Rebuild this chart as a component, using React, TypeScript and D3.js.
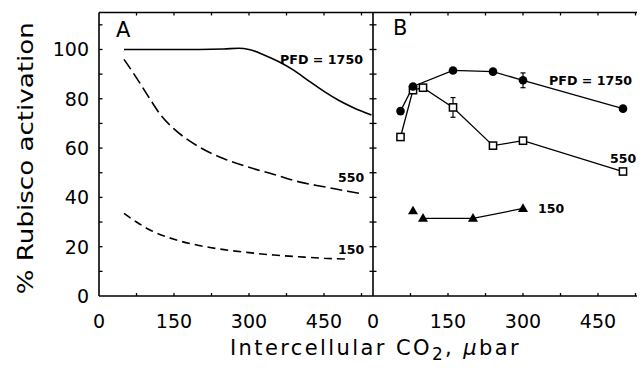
import React from 'react';
import * as d3 from 'd3';

// Panel A: modelled activation curves
const curveAx1750 = [50, 100, 150, 200, 250, 280, 300, 330, 360, 390, 420, 450, 480, 510, 545];
const curveAy1750 = [100, 100, 100, 100, 100.2, 100.5, 100, 97.8, 95, 91.5, 87.2, 83, 79.3, 76.3, 73.4];
const curveAx550 = [50, 75, 100, 125, 150, 200, 250, 300, 350, 400, 450, 500, 525];
const curveAy550 = [96, 88.5, 80.5, 73, 67.8, 60.5, 55.7, 52.2, 49.3, 46.3, 44.3, 42.4, 41.5];
const curveAx150 = [50, 75, 100, 150, 200, 250, 300, 350, 400, 450, 500];
const curveAy150 = [33.5, 30, 27, 23, 20.5, 18.8, 17.6, 16.6, 15.9, 15.3, 15];

// Panel B: measured activation
const ptsBx1750 = [55, 80, 160, 240, 300, 500];
const ptsBy1750 = [75, 85, 91.5, 91, 87.5, 76];
const errB1750 = [0, 0, 0, 0, 3, 0];
const ptsBx550 = [55, 80, 100, 160, 240, 300, 500];
const ptsBy550 = [64.5, 83.5, 84.5, 76.5, 61, 63, 50.5];
const errB550 = [0, 0, 0, 4, 0, 0, 0];
const ptsBx150 = [80, 100, 200, 300];
const ptsBy150 = [34.5, 31.5, 31.5, 35.5];

const xTickLabels = [0, 150, 300, 450];
const yTickLabels = [0, 20, 40, 60, 80, 100];

const W = 642;
const H = 368;
const top = 12.5;
const bottom = 296;
const left = 99;
const mid = 373;
const right = 637;

const xA = d3.scaleLinear().domain([0, 548]).range([left, mid]);
const xB = d3.scaleLinear().domain([0, 528]).range([mid, right]);
const y = d3.scaleLinear().domain([0, 115]).range([bottom, top]);

const font = 'DejaVu Sans, sans-serif';

const App: React.FC = () => {
    const curve = (xs: number[], ys: number[]) =>
        d3.line<number>()
            .x(d => xA(d))
            .y((d, i) => y(ys[i]))
            .curve(d3.curveMonotoneX)(xs) || '';

    const straight = (xs: number[], ys: number[]) =>
        d3.line<number>()
            .x(d => xB(d))
            .y((d, i) => y(ys[i]))(xs) || '';

    const minorY = d3.range(10, 115, 10);
    const minorX = d3.range(75, 548, 75);
    const minorXB = d3.range(75, 528, 75);

    const tri = d3.symbol().type(d3.symbolTriangle).size(44)() || '';

    const errBars = (xs: number[], ys: number[], es: number[], k: string) =>
        xs.map((v, i) => es[i] > 0 && (
            <g key={k + i}>
                <line x1={xB(v)} x2={xB(v)} y1={y(ys[i] - es[i])} y2={y(ys[i] + es[i])} />
                <line x1={xB(v) - 2.5} x2={xB(v) + 2.5} y1={y(ys[i] + es[i])} y2={y(ys[i] + es[i])} />
                <line x1={xB(v) - 2.5} x2={xB(v) + 2.5} y1={y(ys[i] - es[i])} y2={y(ys[i] - es[i])} />
            </g>
        ));

    return (
        <svg width={W} height={H} style={{ position: 'absolute', left: 0, top: 0, background: '#fff' }}>
            {/* frame */}
            <g stroke="#000" strokeWidth={1.6} fill="none">
                <line x1={left} y1={top} x2={right} y2={top} />
                <line x1={left} y1={bottom} x2={right} y2={bottom} />
                <line x1={left} y1={top} x2={left} y2={bottom} />
                <line x1={mid} y1={top} x2={mid} y2={bottom} />
            </g>
            {/* ticks */}
            <g stroke="#000" strokeWidth={1.3}>
                {minorY.map(v => (
                    <g key={'y' + v}>
                        <line x1={left} x2={left + 3.5} y1={y(v)} y2={y(v)} />
                        <line x1={mid - 3.5} x2={mid + 3.5} y1={y(v)} y2={y(v)} />
                    </g>
                ))}
                {minorX.map(v => (
                    <g key={'xa' + v}>
                        <line x1={xA(v)} x2={xA(v)} y1={top} y2={top + 3} />
                        <line x1={xA(v)} x2={xA(v)} y1={bottom} y2={bottom - 3} />
                    </g>
                ))}
                {minorXB.map(v => (
                    <g key={'xb' + v}>
                        <line x1={xB(v)} x2={xB(v)} y1={top} y2={top + 3} />
                        <line x1={xB(v)} x2={xB(v)} y1={bottom} y2={bottom - 3} />
                    </g>
                ))}
            </g>
            {/* tick labels */}
            <g fontFamily={font} fontSize={19} fill="#000">
                {yTickLabels.map(v => (
                    <text key={'yl' + v} x={89} y={y(v)} dy="0.36em" textAnchor="end">{v}</text>
                ))}
                {xTickLabels.map(v => (
                    <text key={'xla' + v} x={xA(v)} y={328} textAnchor="middle">{v}</text>
                ))}
                {xTickLabels.map(v => (
                    <text key={'xlb' + v} x={xB(v)} y={328} textAnchor="middle">{v}</text>
                ))}
            </g>
            {/* axis titles */}
            <text transform={`translate(33,${(top + bottom) / 2 + 4}) rotate(-90)`} textAnchor="middle"
                fontFamily={font} fontSize={22} textLength={272} lengthAdjust="spacingAndGlyphs">% Rubisco activation</text>
            <text x={230} y={355} fontFamily={font} fontSize={21} letterSpacing={2.4}>
                <tspan>Intercellular CO</tspan>
                <tspan dy={5} fontSize={17}>2</tspan>
                <tspan dy={-5}>, </tspan>
                <tspan fontStyle="italic">&#956;</tspan>
                <tspan>bar</tspan>
            </text>
            {/* panel letters */}
            <text x={116} y={37} fontFamily={font} fontSize={21}>A</text>
            <text x={393} y={35} fontFamily={font} fontSize={21}>B</text>

            {/* panel A curves */}
            <g fill="none" stroke="#000" strokeWidth={1.6}>
                <path d={curve(curveAx1750, curveAy1750)} />
                <path d={curve(curveAx550, curveAy550)} strokeDasharray="12 5" />
                <path d={curve(curveAx150, curveAy150)} strokeDasharray="8 5" />
            </g>
            <g fontFamily={font} fontSize={12.5} fontWeight="600" fill="#000">
                <text x={280} y={64} textLength={83} lengthAdjust="spacingAndGlyphs">PFD = 1750</text>
                <text x={338} y={182}>550</text>
                <text x={338} y={254}>150</text>
            </g>

            {/* panel B lines */}
            <g fill="none" stroke="#000" strokeWidth={1.3}>
                <path d={straight(ptsBx1750, ptsBy1750)} />
                <path d={straight(ptsBx550, ptsBy550)} />
                <path d={straight(ptsBx150.slice(1), ptsBy150.slice(1))} />
            </g>
            {/* error bars */}
            <g stroke="#000" strokeWidth={1.2}>
                {errBars(ptsBx1750, ptsBy1750, errB1750, 'e1')}
                {errBars(ptsBx550, ptsBy550, errB550, 'e2')}
            </g>
            {/* markers */}
            {ptsBx550.map((v, i) => (
                <rect key={'s' + i} x={xB(v) - 3.6} y={y(ptsBy550[i]) - 3.6} width={7.2} height={7.2}
                    fill="#fff" stroke="#000" strokeWidth={1.5} />
            ))}
            {ptsBx1750.map((v, i) => (
                <circle key={'c' + i} cx={xB(v)} cy={y(ptsBy1750[i])} r={4.3} fill="#000" />
            ))}
            {ptsBx150.map((v, i) => (
                <path key={'t' + i} d={tri} transform={`translate(${xB(v)},${y(ptsBy150[i]) + 0.5})`} fill="#000" />
            ))}
            <g fontFamily={font} fontSize={12.5} fontWeight="600" fill="#000">
                <text x={549} y={85} textLength={83} lengthAdjust="spacingAndGlyphs">PFD = 1750</text>
                <text x={610} y={163}>550</text>
                <text x={538} y={213}>150</text>
            </g>
        </svg>
    );
};

export default App;
